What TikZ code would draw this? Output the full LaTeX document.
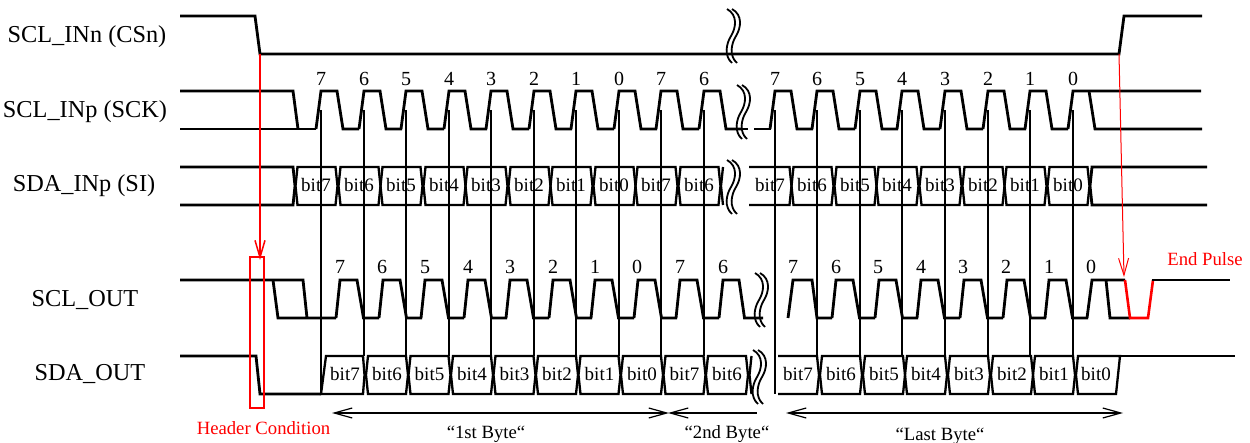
\documentclass[tikz,border=0pt]{standalone}
\usepackage{fontspec}
\setmainfont{Liberation Serif}
\usetikzlibrary{arrows.meta}
\definecolor{sigred}{RGB}{255,0,0}
\tikzset{
  wire/.style={line width=2.8pt,black},
  hexa/.style={line width=2.3pt,black},
  guide/.style={line width=1.5pt,black},
  wave/.style={line width=1.8pt,black},
  span/.style={line width=1.2pt,black},
  siglabel/.style={anchor=base,inner sep=0pt,font=\fontsize{24.3}{24}\selectfont},
  bitlabel/.style={anchor=base,inner sep=0pt,font=\fontsize{19}{20}\selectfont},
  digitlabel/.style={anchor=base,inner sep=0pt,font=\fontsize{20}{20}\selectfont},
  notelabel/.style={anchor=base,inner sep=0pt,font=\fontsize{18.7}{20}\selectfont},
  rednote/.style={notelabel,text=sigred},
}
\newcommand{\breakmark}[2]{%
  \foreach \d in {0,5}{
    \draw[wave] ({#1+\d},{#2}) .. controls ({#1+\d+11},{#2+6}) and ({#1+\d+9},{#2+19}) .. ({#1+\d+4},{#2+27})
      .. controls ({#1+\d-1},{#2+35}) and ({#1+\d-3},{#2+47}) .. ({#1+\d+5},{#2+54});
  }%
}
\begin{document}
\begin{tikzpicture}[x=1pt,y=-1pt]
\useasboundingbox (0,0) rectangle (1250,443);
% labels
\node[siglabel] (lcs) at (87,43) {SCL\_INn (CSn)};
\node[siglabel] (lsck) at (85,118) {SCL\_INp (SCK)};
\node[siglabel] (lsi) at (84,192) {SDA\_INp (SI)};
\node[siglabel] (lsclo) at (85,307) {SCL\_OUT};
\node[siglabel] (lsdao) at (90,381) {SDA\_OUT};
% CS
\draw[wire] (180,16) -- (255,16) -- (260,54) -- (1119,54) -- (1124,16) -- (1202,16);
% SCK
\draw[wire] (180,91) -- (293,91) -- (298,129);
\draw[wire] (180,129) -- (316,129);
\foreach \v in {321,364,406,449,491,534,576,619,661,704,775,817,860,902,945,988,1030}
  \draw[wire] ({\v-5},129) -- (\v,91) -- ({\v+16},91) -- ({\v+22},129) -- ({\v+38},129);
\draw[wire] (726,129) -- (748,129);
\draw[wire] (754,129) -- (771,129);
\draw[wire] (1068,129) -- (1073,91) -- (1201,91);
\draw[wire] (1089,91) -- (1095,129) -- (1202,129);
% SI
\draw[wire] (180,167) -- (293,167) -- (295,186) -- (293,205) -- (180,205);
\foreach \v in {321,364,406,449,491,534,576,619,661,704,817,860,902,945,988,1030,1073}
  \draw[hexa] ({\v-25.5},186) -- ({\v-23.5},167) -- ({\v+14.5},167) -- ({\v+16.5},186) -- ({\v+14.5},205) -- ({\v-23.5},205) -- cycle;
\draw[hexa] (723,167) -- (721,186) -- (723,205);
\draw[hexa] (749,167) -- (789.5,167) -- (791.5,186) -- (789.5,205) -- (749,205);
\draw[wire] (1207,167) -- (1092,167) -- (1090,186) -- (1092,205) -- (1207,205);
\foreach \v/\t [count=\i] in {321/7,364/6,406/5,449/4,491/3,534/2,576/1,619/0,661/7,704/6,775/7,817/6,860/5,902/4,945/3,988/2,1030/1,1073/0}{
  \node[bitlabel] (si\i) at ({\v-5},192) {bit\t};
  \node[digitlabel] (ck\i) at (\v,86) {\t};
}
% SCL_OUT
\draw[wire] (180,280) -- (303,280) -- (307,318);
\draw[wire] (273,280) -- (278,318) -- (336,318);
\foreach \v in {321,364,406,449,491,534,576,619,661,817,860,902,945,988,1030}
  \draw[wire] ({\v+15},318) -- ({\v+19},280) -- ({\v+36},280) -- ({\v+42.5},318) -- ({\v+58},318);
\draw[wire] (719,318) -- (723,280) -- (739,280) -- (744.5,318) -- (763,318);
\draw[wire] (788,318) -- (793,280) -- (812,280) -- (817,318) -- (832,318);
\draw[wire] (1087,318) -- (1092,280) -- (1125,280);
\draw[wire] (1106,280) -- (1110,318) -- (1130,318);
\draw[sigred,line width=2.6pt] (1125,280) -- (1130,318) -- (1148,318) -- (1153,280);
\draw[wire] (1152,280) -- (1230,280);
% SDA_OUT
\draw[wire] (180,356) -- (256,356) -- (260,394) -- (321,394);
\draw[hexa] (321,394) -- (326,356) -- (363,356) -- (364.5,375) -- (363,394) -- cycle;
\foreach \m in {366,408.5,451,493.5,536,578.5,621,663.5,706,820,863,905,948,991,1033}
  \draw[hexa] (\m,375) -- ({\m+2},356) -- ({\m+40},356) -- ({\m+42},375) -- ({\m+40},394) -- ({\m+2},394) -- cycle;
\draw[hexa] (751.5,356) -- (749.5,375) -- (751.5,394);
\draw[hexa] (778,356) -- (817,356) -- (819,375) -- (817,394) -- (778,394);
\draw[hexa] (1116,394) -- (1078,394) -- (1076,375) -- (1078,356) -- (1120,356) -- cycle;
\draw[wire] (1078,356) -- (1235,356);
\foreach \x/\t [count=\i] in {345/7,387/6,429.5/5,472/4,514.5/3,557/2,599.5/1,642/0,684.5/7,727/6,798/7,841/6,884/5,926/4,969/3,1012/2,1054/1,1096/0}
  \node[bitlabel] (so\i) at (\x,381) {bit\t};
\foreach \x/\t [count=\i] in {340/7,382/6,425/5,468/4,510/3,553/2,595/1,637/0,680/7,723/6,793/7,836/6,878/5,921/4,963/3,1006/2,1049/1,1091/0}
  \node[digitlabel] (co\i) at (\x,274) {\t};
% guides
\foreach \v in {364,406,449,491,534,576,619,661,704,817,860,902,945,988,1030,1073}
  \draw[guide] (\v,110) -- (\v,356);
\foreach \v in {321,775}
  \draw[guide] (\v,110) -- (\v,394);
% breaks
\breakmark{727}{9}
\breakmark{737}{85}
\breakmark{727}{160}
\breakmark{755}{273}
\breakmark{753}{350}
% red
\coordinate (hs) at (260,54);
\coordinate (he) at (260,260);
\coordinate (es) at (1119,54);
\coordinate (ee) at (1124,277);
\draw[sigred,line width=1.5pt,-{Straight Barb[length=17pt,width=10pt]}] (hs) -- (he);
\draw[sigred,line width=1pt,-{Straight Barb[length=17pt,width=10pt]}] (es) -- (ee);
\node[draw=sigred,line width=1.8pt,minimum width=14pt,minimum height=151pt,inner sep=0pt] (hbox) at (257,332.5) {};
\node[rednote] (hdr) at (263.5,434) {Header Condition};
\node[rednote] (endp) at (1205,266) {End Pulse};
% spans
\coordinate (a1) at (332,413);
\coordinate (a2) at (669,413);
\coordinate (b1) at (668,413);
\coordinate (b2) at (757,413);
\coordinate (c1) at (786,413);
\coordinate (c2) at (1123,413);
\draw[span,{Straight Barb[length=18pt,width=10pt]}-{Straight Barb[length=18pt,width=10pt]}] (a1) -- (a2);
\draw[span,{Straight Barb[length=18pt,width=10pt]}-] (b1) -- (b2);
\draw[span,{Straight Barb[length=18pt,width=10pt]}-{Straight Barb[length=18pt,width=10pt]}] (c1) -- (c2);
\node[notelabel] (t1) at (486,438) {“1st Byte“};
\node[notelabel] (t2) at (727,438) {“2nd Byte“};
\node[notelabel] (t3) at (940,440) {“Last Byte“};
\end{tikzpicture}
\end{document}
